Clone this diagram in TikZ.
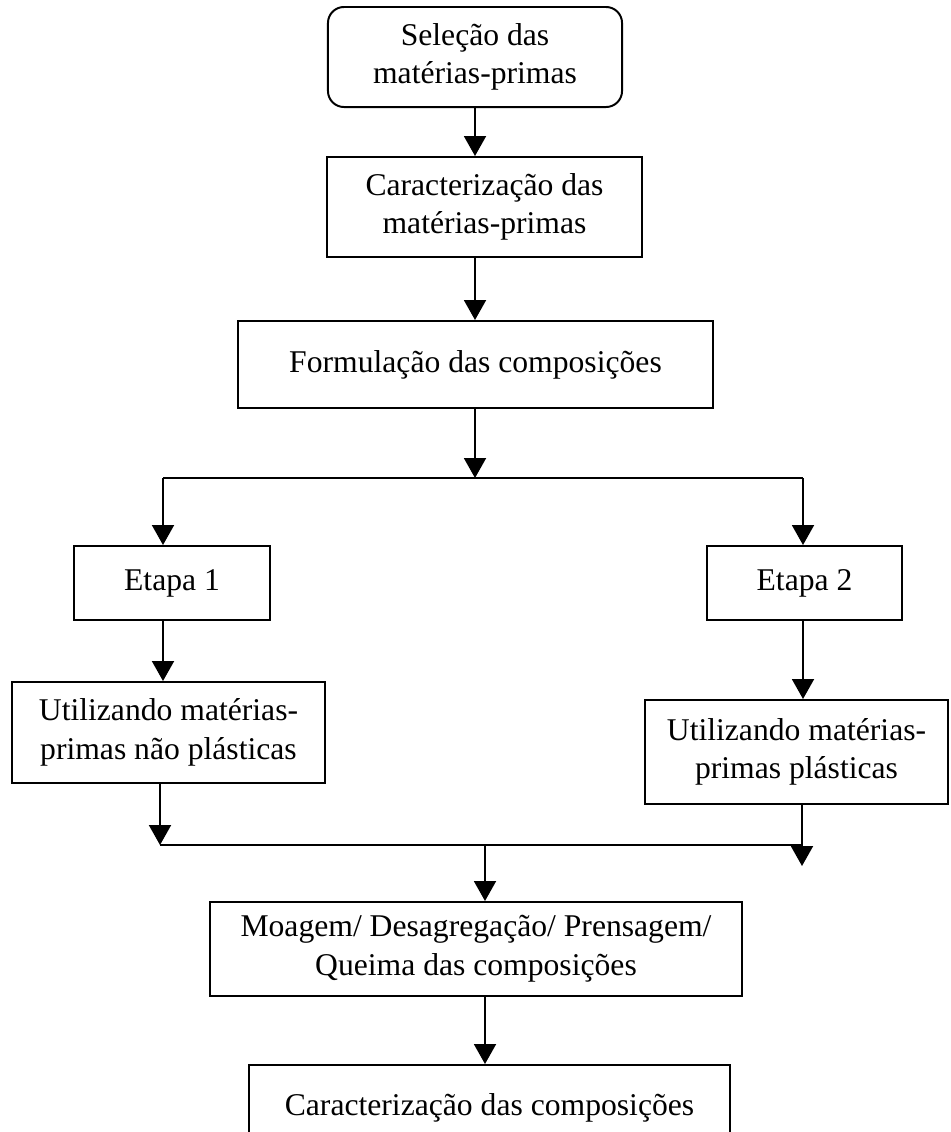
\documentclass[tikz,border=0pt]{standalone}
\usepackage{fontspec}
\setmainfont{Liberation Serif}
\usetikzlibrary{arrows.meta}
\begin{document}
\begin{tikzpicture}[x=0.025cm,y=-0.025cm,
  box/.style={draw, line width=1.4pt, align=center, inner sep=0pt, font=\fontsize{22.5}{27.5}\selectfont},
  arr/.style={line width=1.4pt, -{Triangle[length=0.5cm,width=0.55cm]}},
  ln/.style={line width=1.4pt}]
\useasboundingbox (0,0) rectangle (950,1132);
\clip (0,0) rectangle (950,1132);
\node[box, rounded corners=0.4cm, minimum width=7.35cm, minimum height=2.5cm] (b1) at (475,57) {Seleção das\\matérias-primas};
\node[box, minimum width=7.875cm, minimum height=2.5cm] (b2) at (484.5,207) {Caracterização das\\matérias-primas};
\node[box, minimum width=11.875cm, minimum height=2.175cm] (b3) at (475.5,364.5) {Formulação das composições};
\node[box, minimum width=4.9cm, minimum height=1.85cm] (e1) at (172,583) {Etapa 1};
\node[box, minimum width=4.875cm, minimum height=1.85cm] (e2) at (804.5,583) {Etapa 2};
\node[box, minimum width=7.825cm, minimum height=2.525cm] (u1) at (168.5,732.5) {Utilizando matérias-\\primas não plásticas};
\node[box, minimum width=7.575cm, minimum height=2.6cm] (u2) at (796.5,752) {Utilizando matérias-\\primas plásticas};
\node[box, minimum width=13.3cm, minimum height=2.35cm] (m) at (476,949) {Moagem/ Desagregação/ Prensagem/\\Queima das composições};
\node[box, minimum width=12.025cm, minimum height=2.125cm] (c) at (489.5,1107.5) {Caracterização das composições};
\coordinate (xc) at (475,0);
\coordinate (br) at (475,478);
\coordinate (bl) at (163,478);
\coordinate (brr) at (803,478);
\coordinate (ml) at (160,845);
\coordinate (mr) at (802,845);
\coordinate (mrt) at (802,866);
\coordinate (mc) at (485,845);
\draw[arr] (b1.south -| xc) -- (b2.north -| xc);
\draw[arr] (b2.south -| xc) -- (b3.north -| xc);
\draw[arr] (b3.south -| xc) -- (br);
\draw[ln] (bl) -- (brr);
\draw[arr] (bl) -- (e1.north -| bl);
\draw[arr] (brr) -- (e2.north -| brr);
\draw[arr] (e1.south -| bl) -- (u1.north -| bl);
\draw[arr] (e2.south -| brr) -- (u2.north -| brr);
\draw[arr] (u1.south -| ml) -- (ml);
\draw[arr] (u2.south -| mr) -- (mrt);
\draw[ln] (ml) -- (mr);
\draw[arr] (mc) -- (m.north -| mc);
\draw[arr] (m.south -| mc) -- (c.north -| mc);
\end{tikzpicture}
\end{document}
